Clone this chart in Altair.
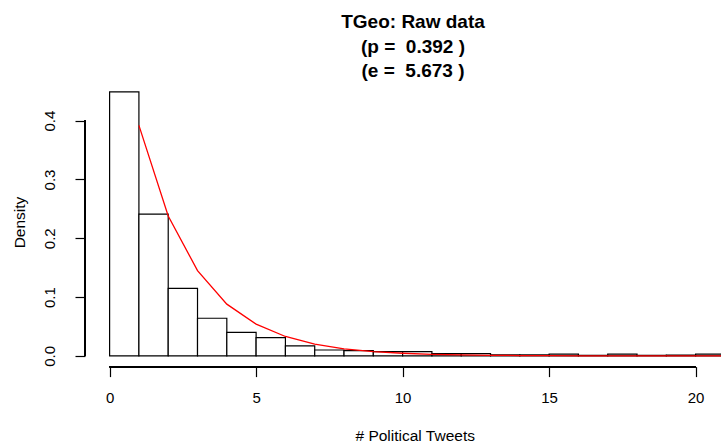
import altair as alt
import pandas as pd

FONT = "Liberation Sans"
NBSP = "\u00a0"

# Histogram of political tweet counts (unit-width bins, density scale)
BIN_START = list(range(0, 21))
DENSITY = [0.449, 0.241, 0.115, 0.064, 0.040, 0.031, 0.017, 0.010, 0.009, 0.0073,
           0.0073, 0.004, 0.004, 0.0017, 0.0017, 0.003, 0.001, 0.003, 0.001, 0.0015,
           0.003]

# Fitted geometric curve evaluated at integer counts
FIT_X = list(range(1, 23))
FIT_Y = [0.392, 0.238, 0.145, 0.088, 0.054, 0.033, 0.020, 0.012, 0.0073, 0.0045,
         0.0027, 0.0017, 0.0010, 0.0006, 0.0004, 0.0002, 0.00015, 0.0001, 0.00005,
         0.00003, 0.00002, 0.00001]

X_TICKS = [0, 5, 10, 15, 20]
Y_TICKS = [0.0, 0.1, 0.2, 0.3, 0.4]
# paste()-style spacing kept with non-breaking spaces
TITLE_LINES = [
    "TGeo: Raw data",
    "(p = " + NBSP + "0.392 )",
    NBSP + "(e = " + NBSP + "5.673 )",
]

W, H = 636, 285.6

bars = pd.DataFrame({
    "start": BIN_START,
    "end": [b + 1 for b in BIN_START],
    "density": DENSITY,
})
fit = pd.DataFrame({"x": FIT_X, "y": FIT_Y})

x_scale = alt.Scale(domain=[-0.84, 20.866], nice=False, zero=False)
y_scale = alt.Scale(domain=[-0.0182, 0.4675], nice=False, zero=False)

x_axis = alt.Axis(
    values=X_TICKS, format="d", domain=False, grid=False,
    tickSize=10, tickColor="black", tickWidth=1.2,
    labelFont=FONT, labelFontSize=15, labelColor="black",
    labelPadding=13.5, labelFlush=False, labelOverlap=False,
    title="# Political Tweets", titleFont=FONT, titleFontSize=15.5,
    titleFontWeight="normal", titleColor="black",
    titleX=329.7, titleY=74, titleAlign="center", titleBaseline="alphabetic",
)
y_axis = alt.Axis(
    values=Y_TICKS, format=".1f", domain=False, grid=False,
    tickSize=10, tickColor="black", tickWidth=1.2,
    labelFont=FONT, labelFontSize=15, labelColor="black",
    labelAngle=270, labelAlign="center", labelBaseline="alphabetic",
    labelPadding=20.5, labelFlush=False, labelOverlap=False,
    title="Density", titleFont=FONT, titleFontSize=15.5,
    titleFontWeight="normal", titleColor="black", titleAngle=270,
    titleX=-60.5, titleY=141, titleAlign="center", titleBaseline="alphabetic",
)

hist = alt.Chart(bars).mark_rect(
    fill="white", stroke="black", strokeWidth=1.2, clip=True
).encode(
    x=alt.X("start:Q", scale=x_scale, axis=x_axis),
    x2="end:Q",
    y=alt.Y("density:Q", scale=y_scale, axis=y_axis),
    y2=alt.datum(0),
)

curve = alt.Chart(fit).mark_line(
    color="#ff0000", strokeWidth=1.3, clip=True
).encode(
    x=alt.X("x:Q", scale=x_scale),
    y=alt.Y("y:Q", scale=y_scale),
)

# R-style axis lines spanning only the tick range
x_line = alt.Chart(bars).mark_rule(color="black", strokeWidth=1.2).encode(
    x=alt.X(datum=X_TICKS[0], scale=x_scale),
    x2=alt.X2(datum=X_TICKS[-1]),
    y=alt.value(H),
)
y_line = alt.Chart(bars).mark_rule(color="black", strokeWidth=1.2).encode(
    y=alt.Y(datum=Y_TICKS[0], scale=y_scale),
    y2=alt.Y2(datum=Y_TICKS[-1]),
    x=alt.value(0),
)

chart = alt.layer(hist, curve, x_line, y_line).properties(
    width=W,
    height=H,
    background="white",
    title=alt.TitleParams(
        text=TITLE_LINES, font=FONT, fontSize=19, fontWeight="bold",
        color="black", anchor="middle", baseline="alphabetic",
        lineHeight=24.5, offset=2, dx=10, dy=17,
    ),
    autosize=alt.AutoSizeParams(type="none"),
    padding={"left": 85, "top": 81, "right": 0, "bottom": 443 - 81 - H},
).configure_view(stroke=None)

chart.save("out.html", embed_options={"renderer": "svg", "actions": False})
